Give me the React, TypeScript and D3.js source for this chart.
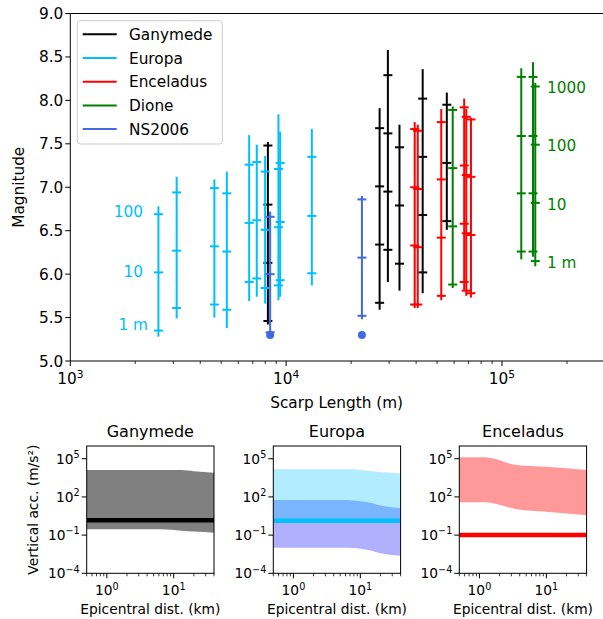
import React from 'react';
import * as d3 from 'd3';

// ---- top panel data: scarp length (m), magnitude at each displacement tick, bar extent ----
const GANYMEDE = [
  { len: 8230, ticks: [7.48, 6.80, 6.13, 5.46], lo: 5.42, hi: 7.52 },
  { len: 27100, ticks: [7.68, 7.01, 6.34, 5.67], lo: 5.59, hi: 7.91 },
  { len: 29600, ticks: [8.29, 7.62, 6.95, 6.28], lo: 5.91, hi: 8.58 },
  { len: 33500, ticks: [7.46, 6.79, 6.12], lo: 5.81, hi: 7.72 },
  { len: 42900, ticks: [8.02, 7.35, 6.68, 6.02], lo: 5.78, hi: 8.36 },
  { len: 55500, ticks: [7.95, 7.28, 6.61], lo: 6.51, hi: 8.09 },
];
const EUROPA = [
  { len: 2560, ticks: [6.69, 6.02, 5.35], lo: 5.28, hi: 6.78 },
  { len: 3110, ticks: [6.94, 6.27, 5.61], lo: 5.49, hi: 7.12 },
  { len: 4650, ticks: [6.99, 6.32, 5.65], lo: 5.50, hi: 7.09 },
  { len: 5310, ticks: [6.93, 6.26, 5.59], lo: 5.38, hi: 7.18 },
  { len: 6740, ticks: [7.26, 6.59, 5.91], lo: 5.69, hi: 7.60 },
  { len: 7310, ticks: [7.29, 6.62, 5.95], lo: 5.74, hi: 7.49 },
  { len: 7990, ticks: [7.18, 6.51, 5.84], lo: 5.66, hi: 7.36 },
  { len: 9210, ticks: [7.21, 6.54, 5.87], lo: 5.70, hi: 7.84 },
  { len: 9380, ticks: [7.28, 6.60, 5.93], lo: 5.74, hi: 7.64 },
  { len: 13150, ticks: [7.35, 6.67, 6.01], lo: 5.87, hi: 7.67 },
];
const ENCELADUS = [
  { len: 39400, ticks: [7.67, 7.00, 6.33, 5.65], lo: 5.61, hi: 7.75 },
  { len: 40700, ticks: [7.65, 6.98, 6.31, 5.65], lo: 5.61, hi: 7.72 },
  { len: 52300, ticks: [7.75, 7.09, 6.42, 5.75], lo: 5.70, hi: 7.90 },
  { len: 66800, ticks: [7.92, 7.25, 6.58, 5.91], lo: 5.82, hi: 8.02 },
  { len: 68300, ticks: [7.81, 7.14, 6.47, 5.81], lo: 5.75, hi: 7.90 },
  { len: 71800, ticks: [7.78, 7.12, 6.45, 5.78], lo: 5.73, hi: 7.80 },
];
const DIONE = [
  { len: 59100, ticks: [7.89, 7.22, 6.55, 5.88], lo: 5.84, hi: 7.93 },
  { len: 122800, ticks: [8.27, 7.59, 6.93, 6.26], lo: 6.17, hi: 8.37 },
  { len: 139200, ticks: [8.27, 7.59, 6.93, 6.26], lo: 6.20, hi: 8.44 },
  { len: 142600, ticks: [8.16, 7.49, 6.82, 6.15], lo: 6.09, hi: 8.20 },
];
const NS2006 = [
  { len: 8430, ticks: [6.66, 6.00, 5.33], lo: 5.32, hi: 6.72 },
  { len: 22440, ticks: [6.86, 6.19, 5.52], lo: 5.48, hi: 6.90 },
];
const NS2006_DOT = 5.30;

const EUROPA_LABELS = [
  { text: '100', m: 6.71 },
  { text: '10', m: 6.03 },
  { text: '1 m', m: 5.41 },
];
const DIONE_LABELS = [
  { text: '1000', m: 8.14 },
  { text: '100', m: 7.47 },
  { text: '10', m: 6.80 },
  { text: '1 m', m: 6.13 },
];

const SERIES = [
  { name: 'Ganymede', color: '#000000', bars: GANYMEDE },
  { name: 'Europa', color: '#00bfff', bars: EUROPA },
  { name: 'Enceladus', color: '#ff0000', bars: ENCELADUS },
  { name: 'Dione', color: '#008000', bars: DIONE },
  { name: 'NS2006', color: '#4169e1', bars: NS2006 },
];

const Y_TICKS = [5.0, 5.5, 6.0, 6.5, 7.0, 7.5, 8.0, 8.5, 9.0];
const X_MAJOR = [1e3, 1e4, 1e5];

// ---- bottom panels: vertical acceleration vs epicentral distance ----
const G_DIST = [0.5, 6.5, 13, 20, 40];
const G_UPPER = [1.3e4, 1.3e4, 1.3e4, 1.05e4, 7.9e3];
const G_LOWER = [0.29, 0.29, 0.22, 0.19, 0.155];
const G_LINE = 1.5;

const E_DIST = [0.5, 6.5, 8, 13, 21, 40];
const E_CYAN_UPPER = [1.48e4, 1.48e4, 1.48e4, 1.15e4, 8.5e3, 7.2e3];
const E_CYAN_LOWER = [0.95, 0.95, 0.95, 0.95, 0.95, 0.95];
const E_BLUE_UPPER = [57, 57, 52, 39, 20, 12.6];
const E_BLUE_LOWER = [0.0102, 0.0102, 0.0095, 0.0068, 0.0036, 0.0024];
const E_LINE = 1.35;

const C_DIST = [0.5, 1.2, 3.6, 10, 40];
const C_UPPER = [1.3e5, 1.3e5, 3.2e4, 2.3e4, 1.3e4];
const C_LOWER = [38, 38, 10.7, 6.8, 3.7];
const C_LINE = 0.1;

const ACC_TICKS = [{ v: 1e5, e: '5' }, { v: 1e2, e: '2' }, { v: 1e-1, e: '−1' }, { v: 1e-4, e: '−4' }];
const DIST_MAJOR = [{ v: 1, e: '0' }, { v: 10, e: '1' }];
const DIST_MINOR = [0.5, 0.6, 0.7, 0.8, 0.9, 2, 3, 4, 5, 6, 7, 8, 9, 20, 30, 40];

const FONT = 'DejaVu Sans, sans-serif';
const FS = 15.3;   // top chart text
const FSB = 13.8;  // bottom panel labels
const FST = 16;    // bottom panel titles

function Pow({ x, y, exp, anchor = 'middle', size = FS }: any) {
  return (
    <text x={x} y={y} textAnchor={anchor} fontSize={size} fontFamily={FONT}>
      <tspan>10</tspan>
      <tspan dy={-size * 0.42} fontSize={size * 0.7}>{exp}</tspan>
    </text>
  );
}

function Band({ dist, upper, lower, x, y, fill, opacity }: any) {
  const area = d3.area<number>()
    .x((_, i) => x(dist[i]))
    .y0((_, i) => y(lower[i]))
    .y1((_, i) => y(upper[i]))
    .curve(d3.curveMonotoneX);
  return <path d={area(dist) || ''} fill={fill} fillOpacity={opacity} />;
}

function Panel({ x0, title, ylabel, children }: any) {
  const w = 127.3;
  const top = 446, bottom = 573.3;
  const x = d3.scaleLog().domain([0.5, 40]).range([x0, x0 + w]);
  const y = d3.scaleLog().domain([1e-4, 1e6]).range([bottom, top]);
  const id = `clip-${title}`;
  return (
    <g>
      <clipPath id={id}><rect x={x0} y={top} width={w} height={bottom - top} /></clipPath>
      <g clipPath={`url(#${id})`}>{children(x, y, x0, w)}</g>
      <rect x={x0} y={top} width={w} height={bottom - top} fill="none" stroke="#000" strokeWidth={1} />
      <text x={x0 + w / 2} y={437} textAnchor="middle" fontSize={FST} fontFamily={FONT}>{title}</text>
      {ACC_TICKS.map(t => (
        <g key={t.e}>
          <line x1={x0} x2={x0 - 5} y1={y(t.v)} y2={y(t.v)} stroke="#000" />
          <Pow x={x0 - 7} y={y(t.v) + 5} exp={t.e} anchor="end" size={FSB} />
        </g>
      ))}
      {DIST_MINOR.map(v => (
        <line key={v} x1={x(v)} x2={x(v)} y1={bottom} y2={bottom + 3} stroke="#000" strokeWidth={0.8} />
      ))}
      {DIST_MAJOR.map(t => (
        <g key={t.e}>
          <line x1={x(t.v)} x2={x(t.v)} y1={bottom} y2={bottom + 5} stroke="#000" />
          <Pow x={x(t.v)} y={bottom + 22} exp={t.e} size={FSB} />
        </g>
      ))}
      <text x={x0 + w / 2} y={614} textAnchor="middle" fontSize={FSB} fontFamily={FONT}>Epicentral dist. (km)</text>
      {ylabel && (
        <text transform={`translate(${x0 - 49},${(top + bottom) / 2}) rotate(-90)`} textAnchor="middle"
          fontSize={FSB} fontFamily={FONT}>{ylabel}</text>
      )}
    </g>
  );
}

export default function App() {
  const W = 603, H = 619;
  const left = 70.3, right = 605, top = 13.5, bottom = 361;
  const x = d3.scaleLog().domain([1e3, 3e5]).range([left, right]);
  const y = d3.scaleLinear().domain([5, 9]).range([bottom, top]);
  const xMinor: number[] = [];
  X_MAJOR.forEach(d => [2, 3, 4, 5, 6, 7, 8, 9].forEach(k => { if (d * k <= 3e5) xMinor.push(d * k); }));

  const legendRowY = (i: number) => 34.3 + i * 23.7;

  return (
    <svg width={W} height={H} style={{ position: 'absolute', left: 0, top: 0, background: '#fff' }}>
      <rect width={W} height={H} fill="#fff" />

      {/* scarp bars */}
      {SERIES.map(s => (
        <g key={s.name}>
          {s.bars.map((b, i) => (
            <g key={i}>
              <line x1={x(b.len)} x2={x(b.len)} y1={y(b.lo)} y2={y(b.hi)} stroke={s.color} strokeWidth={2} />
              {b.ticks.map((m, j) => (
                <line key={j} x1={x(b.len) - 4.5} x2={x(b.len) + 4.5} y1={y(m)} y2={y(m)} stroke={s.color} strokeWidth={2} />
              ))}
            </g>
          ))}
        </g>
      ))}
      {NS2006.map((b, i) => (
        <circle key={i} cx={x(b.len)} cy={y(NS2006_DOT)} r={4} fill="#4169e1" />
      ))}

      {EUROPA_LABELS.map(l => (
        <text key={l.text} x={l.text === '1 m' ? 148 : 143} y={y(l.m) + 5} textAnchor="end"
          fontSize={FS} fontFamily={FONT} fill="#00bfff">{l.text}</text>
      ))}
      {DIONE_LABELS.map(l => (
        <text key={l.text} x={547} y={y(l.m) + 5} fontSize={FS} fontFamily={FONT} fill="#008000">{l.text}</text>
      ))}

      {/* axes frame */}
      <line x1={left} x2={right} y1={top} y2={top} stroke="#000" />
      <line x1={left} x2={right} y1={bottom} y2={bottom} stroke="#000" />
      <line x1={left} x2={left} y1={top} y2={bottom} stroke="#000" />
      {Y_TICKS.map(t => (
        <g key={t}>
          <line x1={left} x2={left - 5} y1={y(t)} y2={y(t)} stroke="#000" />
          <text x={left - 7} y={y(t) + 5.5} textAnchor="end" fontSize={FS} fontFamily={FONT}>{t.toFixed(1)}</text>
        </g>
      ))}
      {xMinor.map(v => (
        <line key={v} x1={x(v)} x2={x(v)} y1={bottom} y2={bottom + 3} stroke="#000" strokeWidth={0.8} />
      ))}
      {X_MAJOR.map((v, i) => (
        <g key={v}>
          <line x1={x(v)} x2={x(v)} y1={bottom} y2={bottom + 5} stroke="#000" />
          <Pow x={x(v)} y={bottom + 23} exp={String(3 + i)} />
        </g>
      ))}
      <text x={(left + 603) / 2} y={408} textAnchor="middle" fontSize={FS} fontFamily={FONT}>Scarp Length (m)</text>
      <text transform={`translate(24,${(top + bottom) / 2}) rotate(-90)`} textAnchor="middle" fontSize={FS} fontFamily={FONT}>Magnitude</text>

      {/* legend */}
      <rect x={77.3} y={20.7} width={145} height={123.3} rx={3} fill="#fff" fillOpacity={0.8} stroke="#cccccc" />
      {SERIES.map((s, i) => (
        <g key={s.name}>
          <line x1={82.7} x2={116.7} y1={legendRowY(i)} y2={legendRowY(i)} stroke={s.color} strokeWidth={2} />
          <text x={129} y={legendRowY(i) + 5.5} fontSize={FS} fontFamily={FONT}>{s.name}</text>
        </g>
      ))}

      {/* bottom panels */}
      <Panel x0={86.7} title="Ganymede" ylabel="Vertical acc. (m/s²)">
        {(px: any, py: any, x0: number, w: number) => (
          <g>
            <Band dist={G_DIST} upper={G_UPPER} lower={G_LOWER} x={px} y={py} fill="#808080" opacity={1} />
            <line x1={x0} x2={x0 + w} y1={py(G_LINE)} y2={py(G_LINE)} stroke="#000" strokeWidth={4.5} />
          </g>
        )}
      </Panel>
      <Panel x0={273.3} title="Europa">
        {(px: any, py: any, x0: number, w: number) => (
          <g>
            <Band dist={E_DIST} upper={E_BLUE_UPPER} lower={E_BLUE_LOWER} x={px} y={py} fill="#0000ff" opacity={0.31} />
            <Band dist={E_DIST} upper={E_CYAN_UPPER} lower={E_CYAN_LOWER} x={px} y={py} fill="#00bfff" opacity={0.3} />
            <line x1={x0} x2={x0 + w} y1={py(E_LINE)} y2={py(E_LINE)} stroke="#00bfff" strokeWidth={4.5} />
          </g>
        )}
      </Panel>
      <Panel x0={459.3} title="Enceladus">
        {(px: any, py: any, x0: number, w: number) => (
          <g>
            <Band dist={C_DIST} upper={C_UPPER} lower={C_LOWER} x={px} y={py} fill="#ff0000" opacity={0.4} />
            <line x1={x0} x2={x0 + w} y1={py(C_LINE)} y2={py(C_LINE)} stroke="#ff0000" strokeWidth={4.5} />
          </g>
        )}
      </Panel>
    </svg>
  );
}
